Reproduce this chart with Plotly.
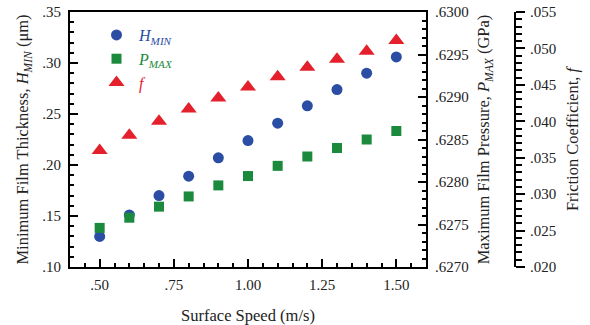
import plotly.graph_objects as go

speed = [0.5, 0.6, 0.7, 0.8, 0.9, 1.0, 1.1, 1.2, 1.3, 1.4, 1.5]
h_min = [0.130, 0.151, 0.170, 0.189, 0.207, 0.224, 0.241, 0.258, 0.274, 0.290, 0.306]
p_max = [0.62746, 0.62758, 0.62771, 0.62783, 0.62796, 0.62807, 0.62819, 0.62830, 0.62840, 0.62850, 0.62860]
fric = [0.0360, 0.0381, 0.0400, 0.0417, 0.0432, 0.0447, 0.0461, 0.0474, 0.0485, 0.0496, 0.0511]

x_tickvals = [0.5, 0.75, 1.0, 1.25, 1.5]
x_ticktext = [".50", ".75", "1.00", "1.25", "1.50"]
h_tickvals = [0.10, 0.15, 0.20, 0.25, 0.30, 0.35]
h_ticktext = [".10", ".15", ".20", ".25", ".30", ".35"]
p_tickvals = [0.6270, 0.6275, 0.6280, 0.6285, 0.6290, 0.6295, 0.6300]
p_ticktext = [".6270", ".6275", ".6280", ".6285", ".6290", ".6295", ".6300"]
f_tickvals = [0.020, 0.025, 0.030, 0.035, 0.040, 0.045, 0.050, 0.055]
f_ticktext = [".020", ".025", ".030", ".035", ".040", ".045", ".050", ".055"]

BLUE = "#2b4da3"
GREEN = "#1b8a3c"
RED = "#e3202b"
FONT = "Liberation Serif"
W, H = 590, 325
TICKF = 15
TITLEF = 16.5

fig = go.Figure()
fig.add_trace(go.Scatter(x=speed, y=h_min, mode="markers",
                         name="<i><span style='color:%s'>H<sub>MIN</sub></span></i>" % BLUE,
                         marker=dict(symbol="circle", size=11, color=BLUE), yaxis="y"))
fig.add_trace(go.Scatter(x=speed, y=p_max, mode="markers",
                         name="<i><span style='color:%s'>P<sub>MAX</sub></span></i>" % GREEN,
                         marker=dict(symbol="square", size=10, color=GREEN), yaxis="y2"))
fig.add_trace(go.Scatter(x=speed, y=fric, mode="markers",
                         name="<i><span style='color:%s'>f</span></i>" % RED,
                         marker=dict(symbol="triangle-up", size=14, color=RED), yaxis="y3"))

x0, x1 = 70 / W, 426 / W
y0, y1 = 1 - 267 / H, 1 - 12 / H

axis_common = dict(showgrid=False, zeroline=False, showline=True, linecolor="black",
                   linewidth=2, tickcolor="black", tickwidth=2,
                   tickfont=dict(family=FONT, size=TICKF, color="#222"))

fig.update_layout(
    width=W, height=H,
    margin=dict(l=0, r=0, t=0, b=0),
    paper_bgcolor="white", plot_bgcolor="white",
    font=dict(family=FONT, size=TITLEF, color="#222"),
    showlegend=True,
    legend=dict(x=94 / W, y=1 - 18 / H, xanchor="left", yanchor="top",
                bgcolor="rgba(0,0,0,0)", font=dict(family=FONT, size=16),
                itemwidth=35, tracegroupgap=0),
    xaxis=dict(domain=[x0, x1], range=[0.4, 1.6], tickvals=x_tickvals, ticktext=x_ticktext,
               ticks="inside", ticklen=8, mirror=True, ticklabelstandoff=3,
               minor=dict(dtick=0.05, tick0=0.4, ticks="inside", ticklen=4, tickwidth=1.5, tickcolor="black"),
               title=dict(text="Surface Speed (m/s)", font=dict(family=FONT, size=TITLEF), standoff=17),
               automargin=False, **axis_common),
    yaxis=dict(domain=[y0, y1], range=[0.10, 0.35], tickvals=h_tickvals, ticktext=h_ticktext,
               ticks="inside", ticklen=8, anchor="x", ticklabelstandoff=4,
               minor=dict(dtick=0.01, tick0=0.1, ticks="inside", ticklen=4, tickwidth=1.5, tickcolor="black"),
               title=dict(text="Minimum Film Thickness, <i>H<sub>MIN</sub></i> (μm)",
                          font=dict(family=FONT, size=TITLEF), standoff=9),
               automargin=False, **axis_common),
    yaxis2=dict(domain=[y0, y1], range=[0.6270, 0.6300], tickvals=p_tickvals, ticktext=p_ticktext,
                overlaying="y", side="right", anchor="x", ticklabelstandoff=4,
                ticks="inside", ticklen=8,
                minor=dict(dtick=0.0001, tick0=0.627, ticks="inside", ticklen=4, tickwidth=1.5, tickcolor="black"),
                title=dict(text="Maximum Film Pressure, <i>P<sub>MAX</sub></i> (GPa)",
                           font=dict(family=FONT, size=TITLEF), standoff=10),
                automargin=False, **axis_common),
    yaxis3=dict(domain=[1 - 267 / H, 1 - 14 / H], range=[0.020, 0.055], tickvals=f_tickvals, ticktext=f_ticktext,
                overlaying="y", side="right", anchor="free", position=515 / W,
                ticks="outside", ticklen=9, ticklabelstandoff=2,
                minor=dict(dtick=0.001, tick0=0.02, ticks="outside", ticklen=6, tickwidth=1.5, tickcolor="black"),
                title=dict(text="Friction Coefficient, <i>f</i>",
                           font=dict(family=FONT, size=TITLEF), standoff=10),
                automargin=False, **axis_common),
)

fig.write_html("out.html")
